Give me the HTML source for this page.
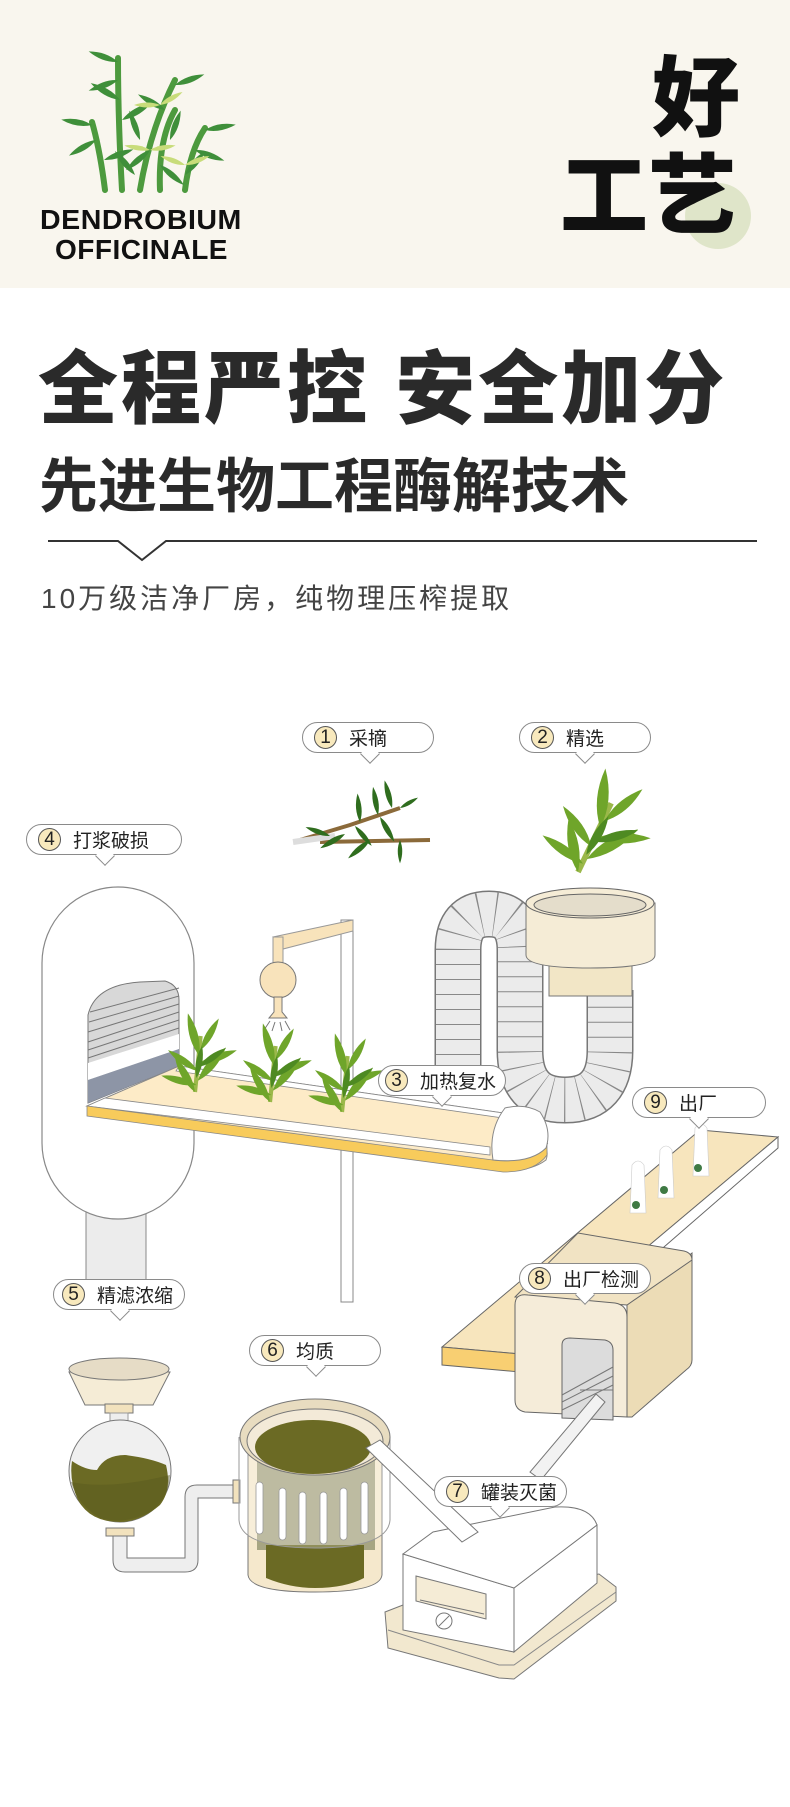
<!DOCTYPE html>
<html><head><meta charset="utf-8">
<style>
*{margin:0;padding:0;box-sizing:border-box}
body{width:790px;height:1807px;position:relative;background:#fff;font-family:"Liberation Sans","Noto Sans CJK SC",sans-serif;overflow:hidden}
.hdr{position:absolute;left:0;top:0;width:790px;height:288px;background:#f9f6ee}
.t{position:absolute;white-space:nowrap;line-height:1}
.lab{position:absolute;height:31px;background:#fff;border:1.5px solid #8a8a8a;border-radius:16px;font-size:19px;color:#222;display:flex;align-items:center;padding-left:11px}
.lab .n{width:23px;height:23px;border-radius:50%;border:1px solid #555;background:#f8e9bd;font-size:19px;display:flex;align-items:center;justify-content:center;margin-right:12px;font-family:"Liberation Sans",sans-serif}
.lab .p{position:absolute;bottom:-9px;width:14px;height:14px;background:#fff;border-right:1.5px solid #8a8a8a;border-bottom:1.5px solid #8a8a8a;transform:rotate(45deg);margin-left:-7px}
</style></head><body>
<div class="hdr"></div>
<svg width="790" height="1807" style="position:absolute;left:0;top:0">
<defs>
<g id="lf"><path d="M0 0 Q5 -12 0 -26 Q-5 -12 0 0Z"/></g>
<g id="spr">
<path d="M0 0 L4 -40" stroke="#9bb84a" stroke-width="3" fill="none"/>
<g fill="#6fa52a">
<use href="#lf" transform="rotate(-30) scale(1.1)"/>
<use href="#lf" transform="translate(2,-8) rotate(40) scale(1.2)"/>
<use href="#lf" transform="translate(2,-15) rotate(-55)"/>
<use href="#lf" transform="translate(3,-20) rotate(70) scale(1.1)"/>
<use href="#lf" transform="translate(3,-26) rotate(-15) scale(1.2)"/>
<use href="#lf" transform="translate(4,-30) rotate(30)"/>
<use href="#lf" transform="translate(1,-5) rotate(-75)"/>
</g>
<g fill="#4e8a22">
<use href="#lf" transform="translate(1,-10) rotate(10) scale(.9)"/>
<use href="#lf" transform="translate(3,-18) rotate(55) scale(.9)"/>
</g>
</g>
</defs>

<!-- header plant -->
<g stroke="#4d9a3e" stroke-width="6" fill="none" stroke-linecap="round">
<path d="M122 190 Q118 120 118 58"/>
<path d="M140 190 Q150 130 175 80"/>
<path d="M160 190 Q158 140 175 110"/>
<path d="M185 190 Q190 150 205 128"/>
<path d="M105 190 Q100 150 92 122"/>
</g>
<g fill="#3f8f3a">
<use href="#lf" transform="translate(118,62) rotate(-70) scale(1.2)"/>
<use href="#lf" transform="translate(118,80) rotate(-110) scale(1.2)"/>
<use href="#lf" transform="translate(120,100) rotate(-60) scale(1.3)"/>
<use href="#lf" transform="translate(122,120) rotate(60) scale(1.3)"/>
<use href="#lf" transform="translate(92,125) rotate(-80) scale(1.2)"/>
<use href="#lf" transform="translate(96,140) rotate(-120) scale(1.2)"/>
<use href="#lf" transform="translate(104,160) rotate(70) scale(1.2)"/>
<use href="#lf" transform="translate(175,85) rotate(70) scale(1.2)"/>
<use href="#lf" transform="translate(165,110) rotate(-60) scale(1.2)"/>
<use href="#lf" transform="translate(205,130) rotate(80) scale(1.2)"/>
<use href="#lf" transform="translate(195,150) rotate(110) scale(1.2)"/>
<use href="#lf" transform="translate(150,150) rotate(-130) scale(1.2)"/>
<use href="#lf" transform="translate(160,165) rotate(130) scale(1.2)"/>
<use href="#lf" transform="translate(135,175) rotate(-40) scale(1.2)"/>
<use href="#lf" transform="translate(185,175) rotate(40) scale(1.2)"/>
<use href="#lf" transform="translate(140,140) rotate(-20) scale(1.2)"/>
<use href="#lf" transform="translate(170,140) rotate(20) scale(1.2)"/>
</g>
<g fill="#c8dc7a">
<use href="#lf" transform="translate(160,105) rotate(-90)"/><use href="#lf" transform="translate(160,105) rotate(60)"/>
<use href="#lf" transform="translate(150,150) rotate(-80)"/><use href="#lf" transform="translate(150,150) rotate(80)"/>
<use href="#lf" transform="translate(185,165) rotate(-70)"/><use href="#lf" transform="translate(185,165) rotate(70)"/>
</g>
<circle cx="718" cy="216" r="33" fill="#dfe5c9"/>

<!-- divider -->
<path d="M48 541 L118 541 L142 560 L166 541 L757 541" stroke="#333" stroke-width="2" fill="none"/>

<!-- herbs -->
<g>
<path d="M300 840 L350 825 L400 808 M320 842 L430 840" stroke="#8b6a3a" stroke-width="4" fill="none"/>
<path d="M293 842 L335 836" stroke="#ddd" stroke-width="6"/>
<g fill="#2f6d1e">
<use href="#lf" transform="translate(360,822) rotate(-5) scale(1.1)"/>
<use href="#lf" transform="translate(378,815) rotate(-10) scale(1.1)"/>
<use href="#lf" transform="translate(392,808) rotate(-15) scale(1.1)"/>
<use href="#lf" transform="translate(400,808) rotate(60) scale(.8)"/>
<use href="#lf" transform="translate(380,817) rotate(150) scale(1.1)"/>
<use href="#lf" transform="translate(355,826) rotate(140) scale(1)"/>
<use href="#lf" transform="translate(345,834) rotate(-120) scale(1.1)"/>
<use href="#lf" transform="translate(370,840) rotate(-130) scale(1.1)"/>
<use href="#lf" transform="translate(400,840) rotate(180) scale(.9)"/>
<use href="#lf" transform="translate(330,836) rotate(-70) scale(1)"/>
</g>
</g>
<use href="#spr" transform="translate(578,872) rotate(20) scale(1.9)"/>

<!-- capsule 4 -->
<rect x="86" y="1205" width="60" height="75" fill="#ececec" stroke="#888" stroke-width="1"/>
<rect x="42" y="887" width="152" height="332" rx="76" fill="#fff" stroke="#888" stroke-width="1.2"/>
<path d="M88 1103 L88 1015 Q95 985 140 982 L165 981 Q179 985 179 1000 L179 1066 Z" fill="#d8d8d8" stroke="#777"/>
<g stroke="#777" stroke-width="1">
<path d="M90 1012 L179 988 M89 1022 L179 996 M88 1032 L179 1004 M88 1042 L179 1012 M88 1050 L179 1020 M88 1058 L179 1028 M88 1066 L179 1036"/>
</g>
<path d="M88 1063 L179 1034 L179 1049 L88 1080Z" fill="#fff"/>
<path d="M88 1080 L179 1049 L179 1066 L88 1103Z" fill="#8d95a6"/>

<!-- pole & sprayer -->
<rect x="341" y="920" width="12" height="382" fill="#fff" stroke="#888"/>
<path d="M273 937 L353 920 L353 931 L283 949 Z" fill="#f8e3bb" stroke="#999"/>
<rect x="273" y="937" width="10" height="28" fill="#f8e3bb" stroke="#999"/>
<circle cx="278" cy="980" r="18" fill="#f8e3bb" stroke="#777"/>
<path d="M274 997 L282 997 L282 1012 L287 1018 L269 1018 L274 1012Z" fill="#f8e3bb" stroke="#777"/>
<g stroke="#777" stroke-width="1"><path d="M270 1021 L264 1030 M275 1022 L272 1031 M280 1022 L282 1031 M285 1021 L290 1030"/></g>

<!-- hose -->
<path d="M458 1085 L458 950 Q458 914 489 914 Q520 914 520 950 L520 1050 Q520 1100 565 1100 Q610 1100 610 1050 L610 990" fill="none" stroke="#777" stroke-width="47"/>
<path d="M458 1085 L458 950 Q458 914 489 914 Q520 914 520 950 L520 1050 Q520 1100 565 1100 Q610 1100 610 1050 L610 990" fill="none" stroke="#ebebeb" stroke-width="44"/>
<path d="M458 1085 L458 950 Q458 914 489 914 Q520 914 520 950 L520 1050 Q520 1100 565 1100 Q610 1100 610 1050 L610 990" fill="none" stroke="#888" stroke-width="44" stroke-dasharray="1 14"/>

<!-- conveyor 3 -->
<path d="M87 1106 L179 1066 L503 1113 L540 1135 Q550 1150 546 1160 Q530 1172 503 1170 L493 1168 Z" fill="#fdebc7" stroke="#888"/>
<path d="M179 1066 L503 1113 L503 1118 L176 1071Z" fill="#fff" stroke="#888" stroke-width=".8"/>
<path d="M105 1098 L490 1147 L490 1155 L87 1106Z" fill="#fff" stroke="#888" stroke-width=".8"/>
<path d="M87 1106 L493 1160 Q520 1164 540 1150 Q550 1143 547 1143 L547 1155 Q535 1172 503 1172 L87 1116Z" fill="#f8cb5b" stroke="#888" stroke-width=".8"/>
<path d="M493 1160 Q488 1130 505 1108 Q525 1103 540 1112 Q552 1130 546 1148 Q530 1164 493 1160Z" fill="#fff" stroke="#888"/>
<use href="#spr" transform="translate(195,1092) scale(1.4)"/>
<use href="#spr" transform="translate(270,1102) scale(1.4)"/>
<use href="#spr" transform="translate(342,1112) scale(1.4)"/>

<!-- hopper -->
<rect x="549" y="960" width="83" height="36" fill="#f2e6c6" stroke="#777"/>
<path d="M526 903 L526 955 Q526 968 590 968 Q655 968 655 955 L655 903Z" fill="#f5ecd6" stroke="#777"/>
<ellipse cx="590" cy="903" rx="64" ry="15" fill="#f5ecd6" stroke="#666"/>
<ellipse cx="590" cy="905" rx="56" ry="11" fill="#e4ddcb" stroke="#666"/>

<!-- belt 9 -->
<path d="M442 1347 L700 1130 L778 1137 L520 1354Z" fill="#f7e5bd" stroke="#666"/>
<path d="M442 1347 L520 1354 L520 1372 L442 1365Z" fill="#f8cf72" stroke="#666"/>
<path d="M778 1137 L778 1148 L520 1372 L520 1354Z" fill="#fff" stroke="#666"/>
<g fill="#fff" stroke="#ccc" stroke-width=".6">
<path d="M632 1165 q6 -8 12 0 l2 48 h-16z"/>
<path d="M660 1150 q6 -8 12 0 l2 48 h-16z"/>
<path d="M695 1128 q6 -8 12 0 l2 48 h-16z"/>
</g>
<g fill="#3f7a44"><circle cx="636" cy="1205" r="4"/><circle cx="664" cy="1190" r="4"/><circle cx="698" cy="1168" r="4"/></g>
<!-- box 8 -->
<path d="M627 1305 L692 1253 L692 1360 Q692 1366 686 1370 L632 1417 L627 1417Z" fill="#ecdcb6" stroke="#666"/>
<path d="M515 1297 L578 1233 L684 1251 Q692 1253 692 1260 L627 1305Z" fill="#f1e3c3" stroke="#666"/>
<path d="M515 1305 Q515 1293 528 1295 L615 1303 Q627 1305 627 1317 L627 1417 L525 1412 Q515 1410 515 1400Z" fill="#f5ecd9" stroke="#666"/>
<path d="M562 1345 Q562 1338 570 1338 L605 1340 Q613 1342 613 1350 L613 1420 L562 1418Z" fill="#dcdcdc" stroke="#666"/>
<g stroke="#777" stroke-width="1"><path d="M562 1395 L613 1367 M562 1402 L613 1376 M562 1410 L613 1385 M580 1390 L613 1390"/></g>
<!-- pipe 8->7 -->
<path d="M596 1394 L605 1402 L541 1480 L530 1472Z" fill="#f2f2f2" stroke="#777"/>

<!-- machine 7 -->
<path d="M385 1612 L403 1605 L599 1574 L616 1587 L616 1601 L514 1679 L499 1678 L388 1648Z" fill="#f2e8cf" stroke="#777"/>
<path d="M388 1630 L499 1665 L514 1665 L616 1592" stroke="#888" fill="none"/>
<path d="M403 1554 L514 1588 L514 1652 L403 1630Z" fill="#fff" stroke="#777"/>
<path d="M514 1588 L597 1525 L597 1583 L514 1652Z" fill="#fff" stroke="#777"/>
<path d="M403 1554 L433 1532 L555 1507 Q590 1505 597 1525 L514 1588Z" fill="#fff" stroke="#777"/>
<path d="M416 1576 L486 1594 L486 1619 L416 1601Z" fill="#f5ecd6" stroke="#777"/>
<path d="M420 1600 L484 1614" stroke="#777"/>
<circle cx="444" cy="1621" r="8" fill="#fff" stroke="#777"/>
<path d="M439 1626 L449 1616" stroke="#777"/>

<!-- funnel 5 -->
<path d="M69 1372 L170 1372 L153 1405 L85 1405Z" fill="#f5ecd6" stroke="#777"/>
<ellipse cx="119" cy="1369" rx="50" ry="11" fill="#e6dcc6" stroke="#777"/>
<rect x="105" y="1404" width="28" height="9" fill="#f2e2bd" stroke="#777"/>
<rect x="110" y="1413" width="18" height="10" fill="#eee" stroke="#999"/>
<path d="M113 1530 L113 1560 Q113 1572 125 1572 L185 1572 Q198 1572 198 1560 L198 1498 L233 1498 L233 1485 L197 1485 Q185 1485 185 1497 L185 1558 L127 1558 L127 1530Z" fill="#eee" stroke="#777"/>
<rect x="233" y="1480" width="7" height="23" fill="#f2e2bd" stroke="#777"/>
<circle cx="120" cy="1471" r="51" fill="#f0f0f0" stroke="#777"/>
<path d="M72 1461 Q85 1470 97 1470 Q105 1455 125 1455 Q150 1458 166 1465 Q172 1490 160 1505 Q140 1522 120 1522 Q90 1522 78 1500 Q69 1480 72 1461Z" fill="#6b6a24"/>
<path d="M71 1482 Q110 1490 170 1475 Q168 1500 150 1512 Q125 1525 100 1518 Q78 1505 71 1482Z" fill="#5a5a1e" opacity=".5"/>
<rect x="106" y="1528" width="28" height="8" fill="#f2e2bd" stroke="#777"/>

<!-- tank 6 -->
<path d="M248 1440 L248 1575 Q250 1592 315 1592 Q380 1592 382 1575 L382 1440Z" fill="#f5e8cc" stroke="#777"/>
<path d="M257 1455 L257 1550 L375 1550 L375 1455Z" fill="#a7a582"/>
<path d="M266 1545 L266 1578 Q290 1588 315 1588 Q345 1588 364 1578 L364 1545Z" fill="#6b6a24"/>
<g fill="#fff" stroke="#777" stroke-width=".8">
<rect x="256" y="1482" width="7" height="52" rx="3.5"/><rect x="279" y="1488" width="7" height="52" rx="3.5"/>
<rect x="299" y="1492" width="7" height="52" rx="3.5"/><rect x="320" y="1492" width="7" height="52" rx="3.5"/>
<rect x="340" y="1488" width="7" height="52" rx="3.5"/><rect x="361" y="1482" width="7" height="52" rx="3.5"/>
</g>
<path d="M239 1437 L239 1520 Q241 1548 315 1548 Q388 1548 390 1520 L390 1437" fill="#fff" fill-opacity=".25" stroke="#999"/>
<ellipse cx="315" cy="1437" rx="75" ry="38" fill="#e8dcc0" stroke="#777"/>
<ellipse cx="315" cy="1441" rx="68" ry="32" fill="#f3ead8" stroke="#777"/>
<ellipse cx="313" cy="1447" rx="58" ry="27" fill="#6b6a24"/>
<!-- pipe tank->machine -->
<path d="M366 1448 L380 1440 L478 1532 L462 1542Z" fill="#fff" stroke="#777"/>
</svg>

<div class="t" style="left:40px;top:206px;font-size:28px;font-weight:bold;color:#111;letter-spacing:.5px;transform:scaleX(1.02);transform-origin:left">DENDROBIUM</div>
<div class="t" style="left:55px;top:236px;font-size:28px;font-weight:bold;color:#111;letter-spacing:.5px">OFFICINALE</div>
<div class="t" style="left:652px;top:55px;font-size:88px;font-weight:900;color:#111">好</div>
<div class="t" style="left:560px;top:153px;font-size:88px;font-weight:900;color:#111">工艺</div>
<div class="t" style="left:38px;top:350px;font-size:80px;font-weight:900;color:#2a2a2a;letter-spacing:3px">全程严控 安全加分</div>
<div class="t" style="left:39px;top:458px;font-size:59px;font-weight:bold;color:#2a2a2a">先进生物工程酶解技术</div>
<div class="t" style="left:41px;top:585px;font-size:28px;color:#444;letter-spacing:3px">10万级洁净厂房，纯物理压榨提取</div>

<div class="lab" style="left:302px;top:722px;width:132px"><span class="n">1</span>采摘<span class="p" style="left:67px"></span></div>
<div class="lab" style="left:519px;top:722px;width:132px"><span class="n">2</span>精选<span class="p" style="left:65px"></span></div>
<div class="lab" style="left:26px;top:824px;width:156px"><span class="n">4</span>打浆破损<span class="p" style="left:78px"></span></div>
<div class="lab" style="left:378px;top:1065px;width:128px;padding-left:6px"><span class="n">3</span>加热复水<span class="p" style="left:63px"></span></div>
<div class="lab" style="left:632px;top:1087px;width:134px"><span class="n">9</span>出厂<span class="p" style="left:66px"></span></div>
<div class="lab" style="left:53px;top:1279px;width:132px;padding-left:8px"><span class="n">5</span>精滤浓缩<span class="p" style="left:66px"></span></div>
<div class="lab" style="left:249px;top:1335px;width:132px"><span class="n">6</span>均质<span class="p" style="left:66px"></span></div>
<div class="lab" style="left:519px;top:1263px;width:132px;padding-left:8px"><span class="n">8</span>出厂检测<span class="p" style="left:65px"></span></div>
<div class="lab" style="left:434px;top:1476px;width:133px"><span class="n">7</span>罐装灭菌<span class="p" style="left:65px"></span></div>
</body></html>
